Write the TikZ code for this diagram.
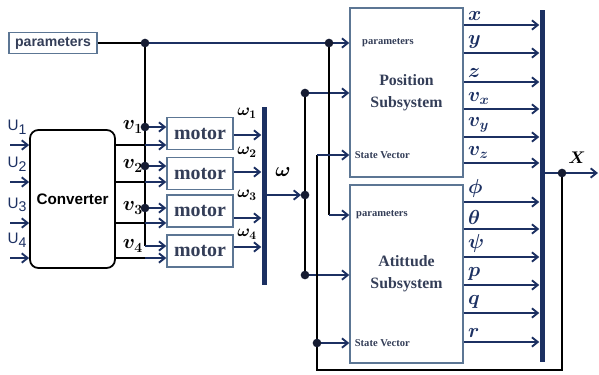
\documentclass[tikz,border=0pt]{standalone}
\usepackage{fontspec}
\setmainfont{Liberation Serif}
\setsansfont{Liberation Sans}
\usepackage{amsmath}
\usepackage{tikz}
\usetikzlibrary{positioning,arrows.meta,calc}
\definecolor{sigcol}{RGB}{28,48,98}
\definecolor{boxcol}{RGB}{92,118,148}
\definecolor{txtcol}{RGB}{52,62,88}
\definecolor{dotcol}{RGB}{22,28,50}

\begin{document}
\begin{tikzpicture}[x=0.3mm, y=-0.3mm,
  blk/.style={rectangle, draw=boxcol, line width=1.2pt, fill=white, text=txtcol,
              align=center, inner sep=0pt},
  parbox/.style={blk, minimum width=26.4mm, minimum height=6.3mm,
                 font=\sffamily\bfseries\fontsize{12}{14}\selectfont},
  convbox/.style={rectangle, draw=black, line width=1.5pt, rounded corners=2.5mm,
                  minimum width=25.5mm, minimum height=41.4mm,
                  font=\sffamily\bfseries\fontsize{13}{15}\selectfont},
  motorbox/.style={blk, minimum width=19.8mm, minimum height=9.6mm,
                   font=\bfseries\fontsize{17}{19}\selectfont},
  subbox/.style={blk, minimum width=33.9mm, font=\bfseries\fontsize{13.5}{19}\selectfont},
  bus/.style={rectangle, fill=sigcol, minimum width=1.5mm, inner sep=0pt},
  wire/.style={black, line width=1.6pt},
  sig/.style={sigcol, line width=1.6pt, -{Straight Barb[length=5pt,width=8pt]}},
  dot/.style={circle, fill=dotcol, minimum size=2.6mm, inner sep=0pt},
  tag/.style={font=\bfseries\fontsize{9}{10}\selectfont, text=txtcol, anchor=west, inner sep=0pt},
  ulab/.style={font=\sffamily\fontsize{13}{15}\selectfont, text=sigcol, inner sep=0pt},
  vlab/.style={font=\LARGE, inner sep=0pt},
  wlab/.style={font=\Large, inner sep=0pt},
  outlab/.style={font=\LARGE, inner sep=3pt},
]
\useasboundingbox (0,0) rectangle (599,374);

% blocks
\node[parbox]   (par)  at (53,43) {parameters};
\node[convbox]  (conv) at (72.5,199) {Converter};
\foreach \i/\y in {1/133.5,2/173.5,3/211,4/251}
  \node[motorbox] (m\i) at (200,\y) {motor};
\node[bus, minimum height=53.4mm]  (wbus) at (264,196) {};
\node[subbox, minimum height=50.7mm] (pos) at (406.5,92.5) {Position\\Subsystem};
\node[subbox, minimum height=53.4mm] (att) at (406.5,274) {Atittude\\Subsystem};
\node[bus, minimum height=105.6mm] (obus) at (542,186) {};

% junctions
\coordinate (jp1) at (145,43);
\coordinate (jp2) at (329,43);
\coordinate (ka)  at (329,215);
\coordinate (jw1) at (305,93);
\coordinate (jw2) at (305,195);
\coordinate (jw3) at (305,275);
\coordinate (js1) at (317,155);
\coordinate (js2) at (317,343);
\coordinate (fb)  at (317,370);
\coordinate (jx)  at (562,173);
\coordinate (xout) at (598,173);

% inputs U
\foreach \i/\y in {1/145,2/182,3/223,4/258} {
  \coordinate (u\i) at (10,\y);
  \draw[sig] (u\i) -- (conv.west |- u\i);
  \node[ulab] at (17,\y-18) {U\raisebox{-0.45ex}{\fontsize{12}{12}\selectfont\i}};
}

% parameters bus
\draw[wire, line width=2.2pt] (par) -- (jp1);
\draw[sig] (jp1) -- (pos.west |- jp1);
\draw[wire] (jp1) -- (145,246) coordinate (p4);

% motors: inputs and outputs
\foreach \i/\pv/\cv/\ov/\wl in {1/127/145/135/113, 2/166/182/172/152, 3/208/223/218/195, 4/246/258/247/234} {
  \coordinate (p\i) at (145,\pv);
  \coordinate (c\i) at (m\i.west |- 0,\cv);
  \draw[wire] (conv.east |- c\i) -- (p\i |- c\i);
  \draw[sig] (p\i |- c\i) -- (c\i);
  \draw[sig] (p\i) -- (m\i.west |- p\i);
  \draw[sig] (m\i.east |- 0,\ov) -- (wbus.west |- 0,\ov);
  \node[wlab] at (247,\wl) {$\boldsymbol{\omega_{\i}}$};
  \node[vlab, left=0.6mm of p\i] {$\boldsymbol{v_{\i}}$};
}
\node[font=\LARGE] at (283,172) {$\boldsymbol{\omega}$};

% omega to subsystems
\draw[sig, shorten >=1.2mm] (wbus.east |- jw2) -- (jw2);
\draw[wire] (jw1) -- (jw3);
\draw[sig] (jw1) -- (pos.west |- jw1);
\draw[sig] (jw3) -- (att.west |- jw3);

% parameters to attitude
\draw[wire] (jp2) -- (ka);
\draw[sig] (ka) -- (att.west |- ka);

% state feedback
\draw[sig] (obus.east |- jx) -- (xout);
\draw[wire] (jx) |- (fb) -- (js1);
\draw[sig] (js1) -- (pos.west |- js1);
\draw[sig] (js2) -- (att.west |- js2);
\node[font=\Large] at (577,158) {$\boldsymbol{X}$};

% subsystem outputs
\foreach \y/\lab in {25/x, 53/y, 82/z, 109/v_x, 137/v_y, 163/v_z,
                     202/\phi, 229/\theta, 257/\psi, 285/p, 313/q, 342/r}
  \draw[sig] (pos.east |- 0,\y) -- (obus.west |- 0,\y)
    node[outlab, pos=0, anchor=south west] {$\boldsymbol{\lab}$};

% port tags
\node[tag, xshift=3.8mm] at (pos.west |- jp2) {parameters};
\node[tag, xshift=1.6mm] at (pos.west |- js1) {State Vector};
\node[tag, xshift=2.0mm] at (att.west |- ka)  {parameters};
\node[tag, xshift=1.6mm] at (att.west |- js2) {State Vector};

% dots
\foreach \j in {jp1,jp2,p1,p2,p3,jw1,jw2,jw3,js2,jx}
  \node[dot] at (\j) {};
\end{tikzpicture}
\end{document}
